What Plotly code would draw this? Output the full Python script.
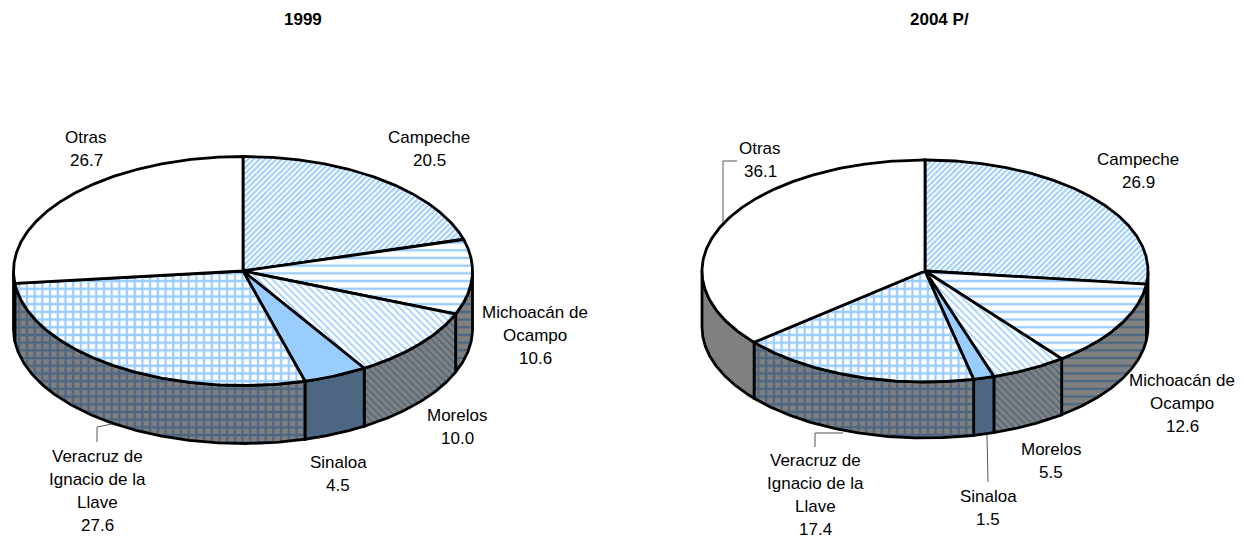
import numpy as np
import plotly.graph_objects as go

# ---- data ----
categories = ["Campeche", "Michoacán de Ocampo", "Morelos", "Sinaloa",
              "Veracruz de Ignacio de la Llave", "Otras"]
values_1999 = [20.5, 10.6, 10.0, 4.5, 27.6, 26.7]
values_2004 = [26.9, 12.6, 5.5, 1.5, 17.4, 36.1]
titles = ["1999", "2004 P/"]

# ---- styles ----
BLUE, WHITE, GRAY, SLATE = "#99CCFF", "#FFFFFF", "#808080", "#4D6682"
top_styles = [
    dict(shape="/", bgcolor=WHITE, fgcolor=BLUE, size=4, solidity=0.5),
    dict(shape="-", bgcolor=WHITE, fgcolor=BLUE, size=7.7, solidity=0.3),
    dict(shape="\\", bgcolor=WHITE, fgcolor=BLUE, size=5, solidity=0.32),
    dict(shape="", bgcolor=BLUE, fgcolor=BLUE),
    dict(shape="+", bgcolor=WHITE, fgcolor=BLUE, size=7.7, solidity=0.5),
    dict(shape="", bgcolor=WHITE, fgcolor=WHITE),
]
side_styles = [
    dict(shape="/", bgcolor=GRAY, fgcolor=SLATE, size=4, solidity=0.5),
    dict(shape="-", bgcolor=GRAY, fgcolor=SLATE, size=7.7, solidity=0.3),
    dict(shape="\\", bgcolor=GRAY, fgcolor=SLATE, size=5, solidity=0.32),
    dict(shape="", bgcolor=SLATE, fgcolor=SLATE),
    dict(shape="+", bgcolor=GRAY, fgcolor=SLATE, size=7.7, solidity=0.5),
    dict(shape="", bgcolor=GRAY, fgcolor=GRAY),
]
LW = 2.8
FONT = "Liberation Sans"
FS = 17

# ---- layout of the two pies ----
pies = [
    dict(values=values_1999, cx=243, cy=271, a=229.5, b=114.5, depth=58),
    dict(values=values_2004, cx=925, cy=271, a=223, b=111, depth=56),
]
title_pos = [(303, 19), (939, 19)]
label_pos = [
    [(429, 137), (535, 312), (457, 415), (338, 462), (97, 456), (86, 137)],
    [(1138, 159), (1182, 380), (1051, 449), (988, 496), (815, 460), (760, 148)],
]
label_lines = [
    ["Campeche", "Michoacán de|Ocampo", "Morelos", "Sinaloa",
     "Veracruz de|Ignacio de la|Llave", "Otras"],
    ["Campeche", "Michoacán de|Ocampo", "Morelos", "Sinaloa",
     "Veracruz de|Ignacio de la|Llave", "Otras"],
]
line_step = 23
leaders = [
    "M 97 442 L 97 427 L 112 424",
    "M 723 223 L 723 161 L 737 161",
    "M 815 447 L 815 433 L 843 433",
    "M 987 435 L 988 482",
]

fig = go.Figure()


def ell(p, t):
    return p["cx"] + p["a"] * np.sin(t), p["cy"] - p["b"] * np.cos(t)


def add_poly(x, y, pattern):
    fig.add_trace(go.Scatter(
        x=x, y=y, mode="lines", fill="toself",
        fillcolor=pattern["bgcolor"], fillpattern=dict(fgopacity=1, **pattern),
        line=dict(color="#000000", width=LW), hoverinfo="skip", showlegend=False))


for p in pies:
    edges = np.cumsum([0] + p["values"]) / sum(p["values"]) * 2 * np.pi
    # front wall, only the part facing the viewer
    for i in range(len(categories)):
        t0, t1 = max(edges[i], np.pi / 2), min(edges[i + 1], 1.5 * np.pi)
        if t1 <= t0:
            continue
        t = np.linspace(t0, t1, 120)
        x, y = ell(p, t)
        add_poly(np.r_[x, x[::-1], x[0]],
                 np.r_[y, y[::-1] + p["depth"], y[0]], side_styles[i])
    # top face
    for i in range(len(categories)):
        t = np.linspace(edges[i], edges[i + 1], 200)
        x, y = ell(p, t)
        add_poly(np.r_[p["cx"], x, p["cx"]], np.r_[p["cy"], y, p["cy"]], top_styles[i])

annotations = []


def add_text(x, y, text, bold=False):
    annotations.append(dict(
        x=x, y=y, xref="x", yref="y", text=f"<b>{text}</b>" if bold else text,
        showarrow=False, xanchor="center", yanchor="middle",
        font=dict(family=FONT, size=FS, color="#000000")))


for (x, y), t in zip(title_pos, titles):
    add_text(x, y, t, bold=True)
for p, positions, lines in zip(pies, label_pos, label_lines):
    for (x, y), name, v in zip(positions, lines, p["values"]):
        for k, row in enumerate(name.split("|") + [f"{v:.1f}"]):
            add_text(x, y + k * line_step, row)

fig.update_layout(
    width=1244, height=537, margin=dict(l=0, r=0, t=0, b=0),
    paper_bgcolor="white", plot_bgcolor="white", showlegend=False,
    xaxis=dict(range=[0, 1244], visible=False, fixedrange=True),
    yaxis=dict(range=[537, 0], visible=False, fixedrange=True),
    annotations=annotations,
    shapes=[dict(type="path", path=s, line=dict(color="#555555", width=1)) for s in leaders],
)
fig.write_html("out.html", config={"displayModeBar": False},
               post_script="document.body.style.margin='0';document.documentElement.style.overflow='hidden';")
